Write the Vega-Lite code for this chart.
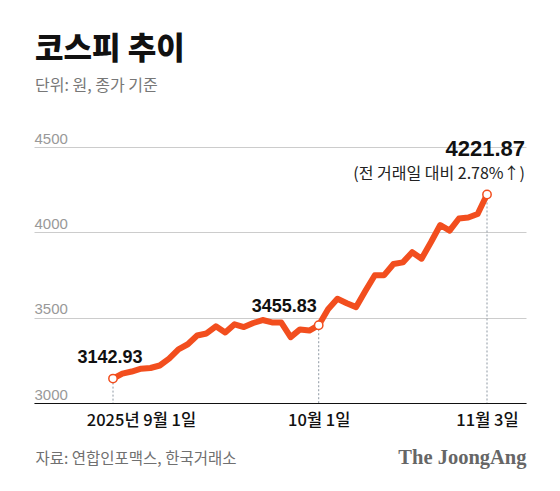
{
  "$schema": "https://vega.github.io/schema/vega-lite/v6.json",
  "width": 492,
  "height": 256,
  "autosize": {"type": "none"},
  "padding": {"left": 34, "top": 147, "right": 34, "bottom": 88},
  "background": "#ffffff",
  "title": {
    "text": "코스피 추이",
    "subtitle": "단위: 원, 종가 기준",
    "anchor": "start",
    "frame": "group",
    "offset": 36,
    "dx": 1,
    "font": "Noto Sans CJK KR",
    "fontSize": 31,
    "fontWeight": 900,
    "color": "#111111",
    "subtitleFont": "Noto Sans CJK KR",
    "subtitleFontSize": 16,
    "subtitleFontWeight": 400,
    "subtitleColor": "#777777",
    "subtitlePadding": 12
  },
  "config": {
    "view": {"stroke": null},
    "axis": {"titleFontWeight": 400}
  },
  "data": {
    "values": [
      {"i": 0, "date": "2025-09-01", "close": 3142.93},
      {"i": 1, "date": "2025-09-02", "close": 3172.35},
      {"i": 2, "date": "2025-09-03", "close": 3184.42},
      {"i": 3, "date": "2025-09-04", "close": 3200.83},
      {"i": 4, "date": "2025-09-05", "close": 3205.12},
      {"i": 5, "date": "2025-09-08", "close": 3219.59},
      {"i": 6, "date": "2025-09-09", "close": 3260.05},
      {"i": 7, "date": "2025-09-10", "close": 3314.53},
      {"i": 8, "date": "2025-09-11", "close": 3344.20},
      {"i": 9, "date": "2025-09-12", "close": 3395.54},
      {"i": 10, "date": "2025-09-15", "close": 3407.31},
      {"i": 11, "date": "2025-09-16", "close": 3449.62},
      {"i": 12, "date": "2025-09-17", "close": 3413.34},
      {"i": 13, "date": "2025-09-18", "close": 3461.30},
      {"i": 14, "date": "2025-09-19", "close": 3445.24},
      {"i": 15, "date": "2025-09-22", "close": 3468.65},
      {"i": 16, "date": "2025-09-23", "close": 3486.19},
      {"i": 17, "date": "2025-09-24", "close": 3472.14},
      {"i": 18, "date": "2025-09-25", "close": 3471.11},
      {"i": 19, "date": "2025-09-26", "close": 3386.05},
      {"i": 20, "date": "2025-09-29", "close": 3431.21},
      {"i": 21, "date": "2025-09-30", "close": 3424.60},
      {"i": 22, "date": "2025-10-01", "close": 3455.83},
      {"i": 23, "date": "2025-10-02", "close": 3549.21},
      {"i": 24, "date": "2025-10-10", "close": 3610.60},
      {"i": 25, "date": "2025-10-13", "close": 3584.55},
      {"i": 26, "date": "2025-10-14", "close": 3561.81},
      {"i": 27, "date": "2025-10-15", "close": 3657.28},
      {"i": 28, "date": "2025-10-16", "close": 3748.37},
      {"i": 29, "date": "2025-10-17", "close": 3748.89},
      {"i": 30, "date": "2025-10-20", "close": 3814.69},
      {"i": 31, "date": "2025-10-21", "close": 3823.84},
      {"i": 32, "date": "2025-10-22", "close": 3883.68},
      {"i": 33, "date": "2025-10-23", "close": 3845.56},
      {"i": 34, "date": "2025-10-24", "close": 3941.59},
      {"i": 35, "date": "2025-10-27", "close": 4042.83},
      {"i": 36, "date": "2025-10-28", "close": 4010.41},
      {"i": 37, "date": "2025-10-29", "close": 4081.15},
      {"i": 38, "date": "2025-10-30", "close": 4086.89},
      {"i": 39, "date": "2025-10-31", "close": 4107.50},
      {"i": 40, "date": "2025-11-03", "close": 4221.87, "note": "(전 거래일 대비 2.78%↑)"}
    ]
  },
  "encoding": {
    "x": {
      "field": "i",
      "type": "quantitative",
      "scale": {"domain": [-8.45, 44.17], "nice": false, "zero": false},
      "axis": {
        "orient": "bottom",
        "values": [0, 22, 40],
        "labelExpr": "datum.value == 0 ? '2025년 9월 1일' : datum.value == 22 ? '10월 1일' : '11월 3일'",
        "grid": false,
        "ticks": false,
        "tickSize": 0,
        "domain": true,
        "domainColor": "#111111",
        "domainWidth": 1,
        "labelFont": "Noto Sans CJK KR",
        "labelFontSize": 16.5,
        "labelFontWeight": 500,
        "labelColor": "#111111",
        "labelBaseline": "alphabetic",
        "labelPadding": 22,
        "labelOverlap": false,
        "labelBound": false,
        "labelFlush": false,
        "labelOffset": {"condition": {"test": "datum.value == 0", "value": 28}, "value": 0},
        "title": "자료: 연합인포맥스, 한국거래소",
        "titleFont": "Noto Sans CJK KR",
        "titleFontSize": 15.5,
        "titleColor": "#707070",
        "titleAlign": "left",
        "titleAnchor": "start",
        "titleBaseline": "alphabetic",
        "titleX": 1,
        "titleY": 60
      }
    },
    "y": {
      "field": "close",
      "type": "quantitative",
      "scale": {"domain": [3000, 4500], "nice": false, "zero": false},
      "axis": {
        "orient": "left",
        "values": [3000, 3500, 4000, 4500],
        "format": "d",
        "grid": true,
        "gridColor": "#cccccc",
        "gridWidth": 1,
        "domain": false,
        "ticks": false,
        "tickSize": 0,
        "labelAlign": "left",
        "labelBaseline": "alphabetic",
        "labelPadding": 0,
        "labelOffset": -4,
        "labelFont": "Liberation Sans",
        "labelFontSize": 15,
        "labelColor": "#999999",
        "title": "The JoongAng",
        "titleFont": "Liberation Serif",
        "titleFontSize": 20.5,
        "titleFontWeight": 700,
        "titleColor": "#666666",
        "titleAngle": 0,
        "titleAlign": "right",
        "titleBaseline": "alphabetic",
        "titleX": 492,
        "titleY": 316
      }
    }
  },
  "layer": [
    {
      "transform": [{"filter": {"field": "date", "oneOf": ["2025-09-01", "2025-10-01", "2025-11-03"]}}],
      "mark": {"type": "rule", "color": "#8e98a3", "strokeWidth": 1, "strokeDash": [2, 2]},
      "encoding": {"y2": {"datum": 3000}}
    },
    {
      "mark": {"type": "line", "color": "#F24E1E", "strokeWidth": 6, "strokeJoin": "round", "strokeCap": "round"}
    },
    {
      "transform": [{"filter": {"field": "date", "oneOf": ["2025-09-01", "2025-10-01", "2025-11-03"]}}],
      "mark": {"type": "point", "filled": true, "fill": "#ffffff", "stroke": "#F24E1E", "strokeWidth": 1.5, "size": 70, "opacity": 1}
    },
    {
      "transform": [{"filter": {"field": "date", "equal": "2025-09-01"}}],
      "mark": {"type": "text", "font": "Liberation Sans", "fontSize": 18, "fontWeight": 700, "color": "#111111", "align": "center", "baseline": "alphabetic", "dx": -3, "dy": -16},
      "encoding": {"text": {"field": "close", "type": "quantitative", "format": ".2f"}}
    },
    {
      "transform": [{"filter": {"field": "date", "equal": "2025-10-01"}}],
      "mark": {"type": "text", "font": "Liberation Sans", "fontSize": 18, "fontWeight": 700, "color": "#111111", "align": "right", "baseline": "alphabetic", "dx": -2, "dy": -13},
      "encoding": {"text": {"field": "close", "type": "quantitative", "format": ".2f"}}
    },
    {
      "transform": [{"filter": {"field": "date", "equal": "2025-11-03"}}],
      "mark": {"type": "text", "font": "Liberation Sans", "fontSize": 22, "fontWeight": 700, "color": "#111111", "align": "right", "baseline": "alphabetic", "dx": 38, "dy": -38},
      "encoding": {"text": {"field": "close", "type": "quantitative", "format": ".2f"}}
    },
    {
      "transform": [{"filter": {"field": "date", "equal": "2025-11-03"}}],
      "mark": {"type": "text", "font": "Noto Sans CJK KR", "fontSize": 16, "fontWeight": 400, "color": "#222222", "align": "right", "baseline": "alphabetic", "dx": 38, "dy": -15},
      "encoding": {"text": {"field": "note"}}
    }
  ]
}
